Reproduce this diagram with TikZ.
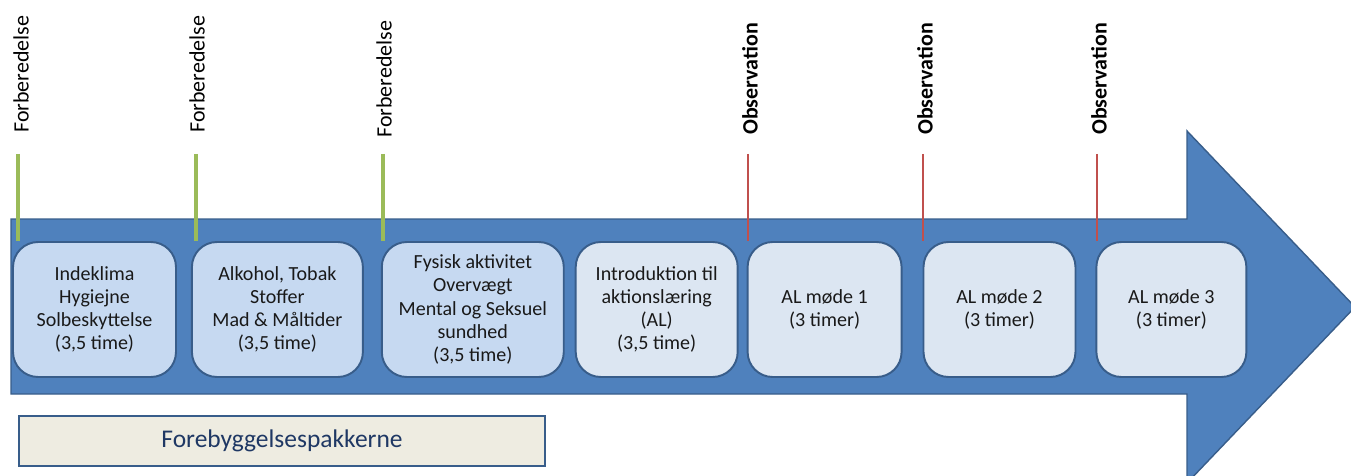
\documentclass[tikz,border=0pt]{standalone}
\usepackage{fontspec}
\setmainfont{Carlito}
\usetikzlibrary{positioning}
\definecolor{arrowblue}{HTML}{4F81BD}
\definecolor{edgeblue}{HTML}{385D8A}
\definecolor{topicfill}{HTML}{C6D9F1}
\definecolor{meetfill}{HTML}{DCE6F2}
\definecolor{prepgreen}{HTML}{9BBB59}
\definecolor{obsred}{HTML}{C0504D}
\definecolor{packfill}{HTML}{EEECE1}
\definecolor{packtext}{HTML}{1F3864}

\begin{document}
\begin{tikzpicture}[x=0.02cm,y=-0.02cm,
		topic/.style={draw=edgeblue,line width=1.1pt,fill=topicfill,rounded corners=0.5cm,
			minimum height=2.7cm,align=center,text=black!90,font=\fontsize{11.4}{13.2}\selectfont},
		meeting/.style={topic,fill=meetfill},
		prep/.style={rotate=90,anchor=west,inner sep=0pt,font=\fontsize{12.5}{15}\selectfont},
		obs/.style={prep,font=\fontsize{12.5}{15}\selectfont\bfseries},
		prepline/.style={prepgreen,line width=2.2pt},
		obsline/.style={obsred,line width=1.6pt},
		pack/.style={draw=edgeblue,line width=1.4pt,fill=packfill,text=packtext,
			minimum width=10.52cm,minimum height=1cm,font=\fontsize{14.5}{17}\selectfont}]
		\useasboundingbox (0,0) rectangle (1351,476);
		\clip (0,0) rectangle (1351,476);
		% the big arrow
		\draw[draw=edgeblue,fill=arrowblue,line width=0.8pt]
		(11,219) -- (1187,219) -- (1187,131) -- (1355,307) -- (1187,483) -- (1187,394) -- (11,394) -- cycle;
		% labels above
		\node[prep] (f_1) at (21,133) {Forberedelse};
		\node[prep] (f_2) at (197,133) {Forberedelse};
		\node[prep] (f_3) at (384,138) {Forberedelse};
		\node[obs] (o_1) at (750,135) {Observation};
		\node[obs] (o_2) at (925,135) {Observation};
		\node[obs] (o_3) at (1099,135) {Observation};
		\coordinate (t_1) at (18,154);
		\coordinate (t_2) at (196,154);
		\coordinate (t_3) at (383,154);
		\coordinate (t_4) at (748,154);
		\coordinate (t_5) at (923,154);
		\coordinate (t_6) at (1097,154);
		% boxes
		\node[topic,minimum width=3.26cm] (p_1) at (94.5,309.5) {Indeklima\\Hygiejne\\Solbeskyttelse\\(3,5 time)};
		\node[topic,minimum width=3.42cm] (p_2) [right=0.28cm of p_1] {Alkohol, Tobak\\Stoffer\\Mad \& Måltider\\(3,5 time)};
		\node[topic,minimum width=3.64cm] (p_3) [right=0.34cm of p_2] {Fysisk aktivitet\\Overvægt\\Mental og Seksuel\\sundhed\\(3,5 time)};
		\node[meeting,minimum width=3.24cm] (p_4) [right=0.2cm of p_3] {Introduktion til\\aktionslæring\\(AL)\\(3,5 time)};
		\node[meeting,minimum width=3.08cm] (m_1) [right=0.16cm of p_4] {AL møde 1\\(3 timer)};
		\node[meeting,minimum width=3.04cm] (m_2) [right=0.4cm of m_1] {AL møde 2\\(3 timer)};
		\node[meeting,minimum width=3.0cm] (m_3) [right=0.38cm of m_2] {AL møde 3\\(3 timer)};
		% marker lines
		\path
		(t_1) edge[prepline] (t_1 |- p_1.north)
		(t_2) edge[prepline] (t_2 |- p_2.north)
		(t_3) edge[prepline] (t_3 |- p_3.north)
		(t_4) edge[obsline] (t_4 |- m_1.north)
		(t_5) edge[obsline] (t_5 |- m_2.north)
		(t_6) edge[obsline] (t_6 |- m_3.north);
		% packages
		\node[pack] (pk) at (282,441) {Forebyggelsespakkerne};
	\end{tikzpicture}
\end{document}
